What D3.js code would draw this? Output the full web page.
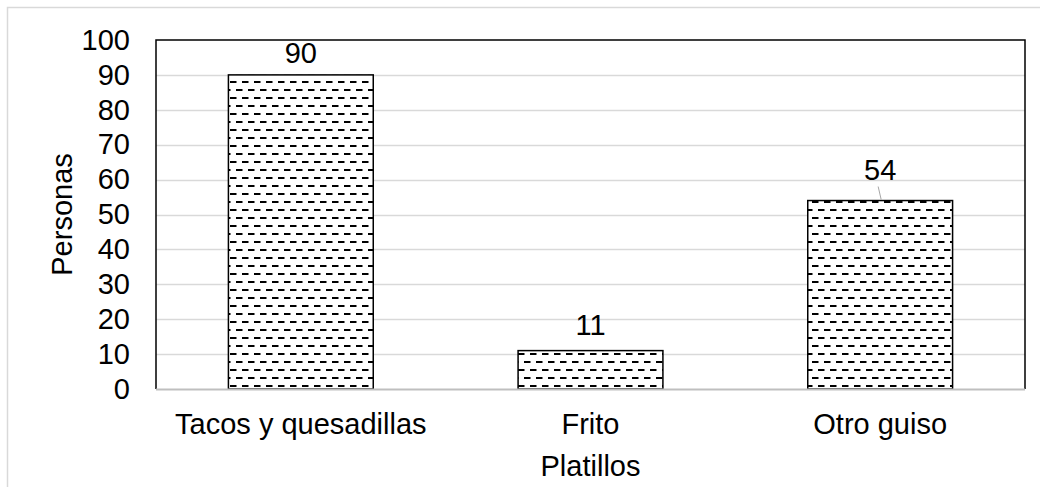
<!DOCTYPE html>
<html>
<head>
<meta charset="utf-8">
<script src="https://cdn.jsdelivr.net/npm/d3@7"></script>
<style>
  html, body { margin: 0; padding: 0; background: #fff; }
  svg { display: block; font-family: "Liberation Sans", Arial, sans-serif; }
</style>
</head>
<body>
<svg id="chart" width="1040" height="487"></svg>
<script>
// Platillos preferidos: número de personas por platillo
const categories = ["Tacos y quesadillas", "Frito", "Otro guiso"];
const personas = [90, 11, 54];
const yTicks = [0, 10, 20, 30, 40, 50, 60, 70, 80, 90, 100];

const FONT = 29;
const svg = d3.select("#chart");
const margin = { left: 156, right: 1025, top: 40, bottom: 389 };

// outer chart frame (light gray)
svg.append("path")
  .attr("d", "M7.5,490 V7.5 H1040")
  .attr("fill", "none")
  .attr("stroke", "#d9d9d9")
  .attr("stroke-width", 1.5);

const x = d3.scaleBand()
  .domain(categories)
  .range([margin.left, margin.right])
  .paddingInner(0.5)
  .paddingOuter(0.25);

const y = d3.scaleLinear()
  .domain([0, 100])
  .range([margin.bottom, margin.top]);

// dashed-horizontal hatch fill
const defs = svg.append("defs");
const pat = defs.append("pattern")
  .attr("id", "dashH")
  .attr("patternUnits", "userSpaceOnUse")
  .attr("width", 12)
  .attr("height", 16)
  .attr("x", 0)
  .attr("y", 0);
pat.append("rect").attr("width", 12).attr("height", 16).attr("fill", "#fff");
pat.append("rect").attr("x", 2).attr("y", 1).attr("width", 6.5).attr("height", 2).attr("fill", "#000");
pat.append("rect").attr("x", 8).attr("y", 9).attr("width", 6.5).attr("height", 2).attr("fill", "#000");
pat.append("rect").attr("x", -4).attr("y", 9).attr("width", 6.5).attr("height", 2).attr("fill", "#000");

// gridlines
svg.append("g")
  .selectAll("line")
  .data(yTicks.filter(t => t > 0 && t < 100))
  .join("line")
  .attr("x1", margin.left)
  .attr("x2", margin.right)
  .attr("y1", d => Math.round(y(d)) + 0.5)
  .attr("y2", d => Math.round(y(d)) + 0.5)
  .attr("stroke", "#d9d9d9")
  .attr("stroke-width", 1.5);

// bars
svg.append("g")
  .selectAll("rect")
  .data(categories)
  .join("rect")
  .attr("x", d => x(d))
  .attr("y", (d, i) => y(personas[i]))
  .attr("width", x.bandwidth())
  .attr("height", (d, i) => y(0) - y(personas[i]))
  .attr("fill", "url(#dashH)")
  .attr("stroke", "#000")
  .attr("stroke-width", 1.5);

// plot area frame: black on top/left/right, gray category axis at bottom
svg.append("path")
  .attr("d", `M${margin.left},${margin.bottom} V${margin.top} H${margin.right} V${margin.bottom}`)
  .attr("fill", "none")
  .attr("stroke", "#000")
  .attr("stroke-width", 1.5);

const xAxis = svg.append("g")
  .attr("transform", `translate(0,${margin.bottom})`)
  .call(d3.axisBottom(x).tickSize(0).tickPadding(24));
xAxis.select(".domain")
  .attr("d", `M${margin.left},0.5 H${margin.right}`)
  .attr("stroke", "#bfbfbf")
  .attr("stroke-width", 2);
xAxis.selectAll("text")
  .attr("font-size", FONT)
  .attr("fill", "#000")
  .attr("font-family", "'Liberation Sans', Arial, sans-serif");

const yAxis = svg.append("g")
  .attr("transform", `translate(${margin.left},0)`)
  .call(d3.axisLeft(y).tickValues(yTicks).tickSize(0).tickPadding(26));
yAxis.select(".domain").remove();
yAxis.selectAll("text")
  .attr("font-size", FONT)
  .attr("fill", "#000")
  .attr("font-family", "'Liberation Sans', Arial, sans-serif");

// value labels
const labelOffset = [22, 26, 31];
svg.append("g")
  .selectAll("text")
  .data(categories)
  .join("text")
  .attr("x", d => x(d) + x.bandwidth() / 2)
  .attr("y", (d, i) => y(personas[i]) - labelOffset[i])
  .attr("text-anchor", "middle")
  .attr("dominant-baseline", "central")
  .attr("font-size", FONT)
  .attr("fill", "#000")
  .text((d, i) => personas[i]);

// leader line for the displaced "54" label
const c3 = x(categories[2]) + x.bandwidth() / 2;
svg.append("line")
  .attr("x1", c3 - 2)
  .attr("y1", y(personas[2]) - 14)
  .attr("x2", c3 + 1)
  .attr("y2", y(personas[2]) - 1)
  .attr("stroke", "#a6a6a6")
  .attr("stroke-width", 1);

// axis titles
svg.append("text")
  .attr("x", (margin.left + margin.right) / 2)
  .attr("y", 466)
  .attr("text-anchor", "middle")
  .attr("dominant-baseline", "central")
  .attr("font-size", FONT)
  .text("Platillos");

svg.append("text")
  .attr("transform", `translate(62,${(margin.top + margin.bottom) / 2}) rotate(-90)`)
  .attr("text-anchor", "middle")
  .attr("dominant-baseline", "central")
  .attr("font-size", FONT)
  .text("Personas");
</script>
</body>
</html>
